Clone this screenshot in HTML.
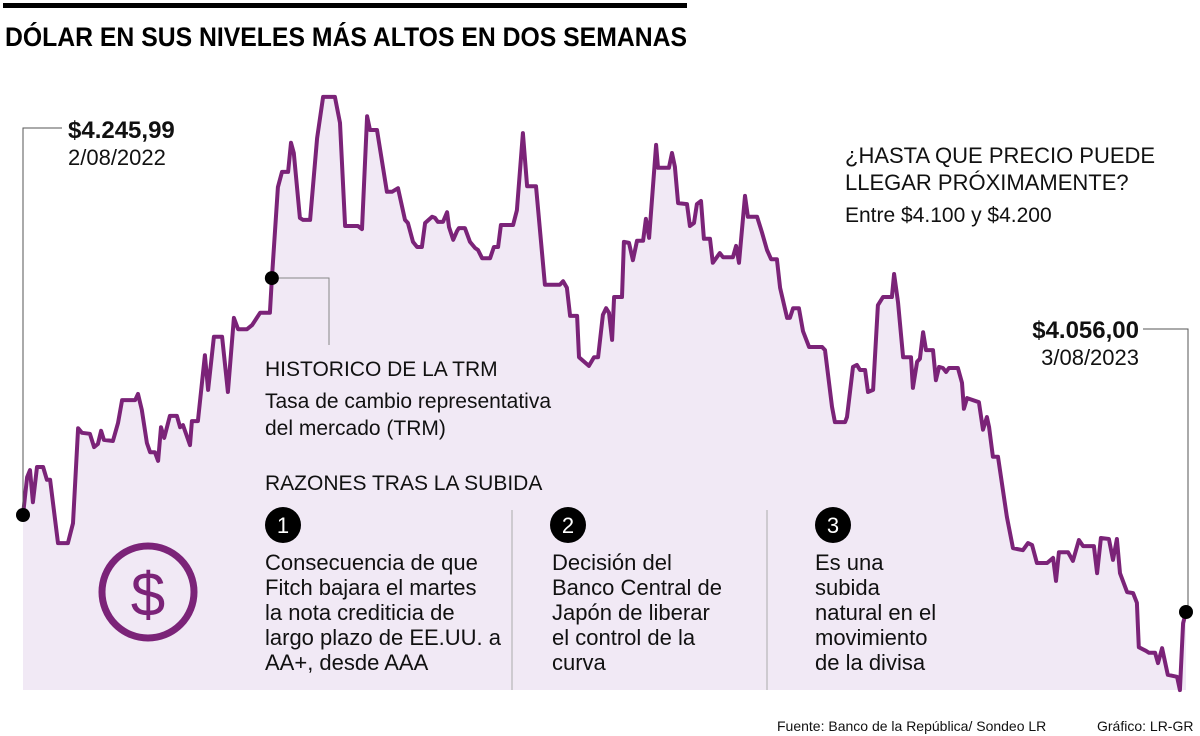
<!DOCTYPE html>
<html><head><meta charset="utf-8">
<style>
html,body{margin:0;padding:0;background:#fff;}
svg{display:block;font-family:"Liberation Sans",sans-serif;}
</style></head>
<body>
<svg id="chart" width="1200" height="736" viewBox="0 0 1200 736" xmlns="http://www.w3.org/2000/svg">
<rect x="3" y="3" width="684" height="5" fill="#000"/>
<text x="5" y="46" font-size="27" font-weight="bold" textLength="682" lengthAdjust="spacingAndGlyphs">DÓLAR EN SUS NIVELES MÁS ALTOS EN DOS SEMANAS</text>
<g id="plot"></g>
<g font-size="20" fill="#111">
  <polyline points="62,128 23,128 23,515" fill="none" stroke="#555" stroke-width="1"/>
  <text x="68" y="138" font-size="24" font-weight="bold">$4.245,99</text>
  <text x="68" y="165" font-size="22">2/08/2022</text>
  <polyline points="270,278 329,278 329,345" fill="none" stroke="#888" stroke-width="1"/>
  <text x="265" y="376" font-size="21">HISTORICO DE LA TRM</text>
  <text x="265" y="408" font-size="21">Tasa de cambio representativa</text>
  <text x="265" y="435" font-size="21">del mercado (TRM)</text>
  <text x="265" y="490" font-size="21">RAZONES TRAS LA SUBIDA</text>
  <line x1="512" y1="510" x2="512" y2="690" stroke="#aaa" stroke-width="1"/>
  <line x1="767" y1="510" x2="767" y2="690" stroke="#aaa" stroke-width="1"/>
  <circle cx="283" cy="525" r="18" fill="#000"/>
  <text x="283" y="533" font-size="22" fill="#fff" text-anchor="middle">1</text>
  <circle cx="568" cy="525" r="18" fill="#000"/>
  <text x="568" y="533" font-size="22" fill="#fff" text-anchor="middle">2</text>
  <circle cx="833" cy="525" r="18" fill="#000"/>
  <text x="833" y="533" font-size="22" fill="#fff" text-anchor="middle">3</text>
  <g font-size="22">
    <text x="265" y="570">Consecuencia de que</text>
    <text x="265" y="595">Fitch bajara el martes</text>
    <text x="265" y="620">la nota crediticia de</text>
    <text x="265" y="645">largo plazo de EE.UU. a</text>
    <text x="265" y="670">AA+, desde AAA</text>
  </g>
  <g font-size="22">
    <text x="552" y="570">Decisión del</text>
    <text x="552" y="595">Banco Central de</text>
    <text x="552" y="620">Japón de liberar</text>
    <text x="552" y="645">el control de la</text>
    <text x="552" y="670">curva</text>
  </g>
  <g font-size="22">
    <text x="815" y="570">Es una</text>
    <text x="815" y="595">subida</text>
    <text x="815" y="620">natural en el</text>
    <text x="815" y="645">movimiento</text>
    <text x="815" y="670">de la divisa</text>
  </g>
  <g>
    <circle cx="148" cy="592" r="46" fill="none" stroke="#7b2378" stroke-width="7"/>
    <text x="148" y="616" font-size="62" fill="#7b2378" text-anchor="middle">$</text>
  </g>
  <text x="845" y="163" font-size="22">¿HASTA QUE PRECIO PUEDE</text>
  <text x="845" y="190" font-size="22">LLEGAR PRÓXIMAMENTE?</text>
  <text x="845" y="222" font-size="21">Entre $4.100 y $4.200</text>
  <polyline points="1143,329 1188,329 1188,612" fill="none" stroke="#555" stroke-width="1"/>
  <text x="1139" y="338" font-size="24" font-weight="bold" text-anchor="end">$4.056,00</text>
  <text x="1139" y="365" font-size="22" text-anchor="end">3/08/2023</text>
  <text x="777" y="731" font-size="14">Fuente: Banco de la República/ Sondeo LR</text>
  <text x="1097" y="731" font-size="14">Gráfico: LR-GR</text>
</g>
</svg>
<script>
const days = [0,1.3,2.2,3.1,4.4,6.3,7.5,8.5,11,14.1,15.7,17.3,18.5,21,22.3,23.5,24.5,25.4,28.2,29.8,31.1,35.2,36.1,37.3,38.9,39.9,41.4,42.4,43.3,44.3,46.1,48.3,49.3,50.2,52.4,53,54.9,57.1,58.1,59.9,62.5,64.3,66.2,67.5,70.3,71.9,74.4,77.5,78.1,80,81.3,83.2,84.1,85,86.9,87.9,90.1,92.3,94.2,97.9,99.5,101.1,105.1,106.4,108,108.9,111.1,114.2,115.8,117.7,119.9,120.8,122.4,123.7,125.2,126.2,128.4,129.3,130.2,131.8,133.1,133.7,135,136.2,136.8,138.7,140.3,141.9,142.8,144.1,146.6,147.8,149.1,150,153.8,155,156.9,158.2,161,163.8,168.5,169.5,170.7,171.7,173.9,174.5,177.6,179.2,180.5,182,183,183.9,184.9,185.5,188,188.6,190.2,191.4,192.7,194.6,195.5,196.5,198.7,199.3,202.7,203.7,204.6,205.6,208.4,209.3,210.6,211.5,212.8,213.7,215.6,216.5,218.7,219.7,222.8,223.8,224.7,226.6,227.5,230.4,231.9,233.5,234.8,236.6,237.6,239.8,240.7,241.7,243.5,244.8,246.7,250.8,251.7,253.9,254.8,258,258.6,260.5,261.7,262.7,264.3,265.2,266.8,268.3,269.9,272.7,273.4,274.6,276.2,278.7,279.3,280.6,281.5,282.5,283.4,285.6,286.5,287.5,288.7,289.7,290.6,293.4,294.7,295.3,296.3,300,301.3,302.5,303.2,304.4,306,308.8,310.7,313.8,315.4,316.7,318.2,321.4,323.3,324.2,325.1,328,329.5,331.4,332.7,336.1,337.1,338.3,340.8,342.1,343.3,344.3,346.5,348.4,349.6,350.2,352.4,353.4,355.3,356.2,357.5,359.3,362.2,363.1,364.1,365];
const trm = [4246,4320,4334,4271,4340,4340,4315,4315,4191,4191,4230,4416,4407,4405,4379,4385,4411,4393,4391,4426,4471,4471,4483,4452,4387,4369,4369,4352,4418,4397,4440,4440,4418,4422,4383,4430,4430,4559,4491,4595,4595,4487,4632,4610,4610,4618,4642,4642,4710,4888,4918,4918,4975,4955,4828,4824,4824,4984,5065,5065,5014,4812,4812,4806,5027,5000,5000,4879,4879,4886,4824,4818,4781,4771,4771,4818,4830,4828,4820,4820,4839,4810,4785,4802,4808,4808,4781,4769,4765,4749,4749,4771,4771,4814,4814,4843,4994,4890,4890,4697,4697,4704,4691,4636,4636,4555,4538,4555,4555,4638,4651,4642,4589,4673,4673,4781,4779,4745,4783,4783,4826,4789,4971,4926,4926,4955,4928,4857,4855,4812,4818,4855,4861,4787,4787,4740,4759,4751,4751,4773,4740,4871,4830,4830,4800,4765,4747,4747,4691,4632,4632,4651,4651,4606,4575,4575,4569,4458,4428,4428,4438,4536,4540,4530,4530,4487,4491,4657,4673,4673,4718,4663,4555,4555,4495,4546,4552,4604,4569,4569,4510,4536,4534,4526,4534,4534,4505,4454,4475,4467,4413,4438,4418,4360,4360,4242,4181,4177,4191,4187,4152,4152,4162,4117,4173,4173,4156,4197,4185,4185,4132,4201,4199,4158,4199,4132,4095,4093,4074,3987,3980,3976,3976,3956,3985,3933,3929,3903,4034,4056];
const markerIdx = [0, 48, trm.length - 1];

const X0 = 23, X1 = 1186, DMAX = 365;
const xScale = d => X0 + (d / DMAX) * (X1 - X0);
const yScale = v => 515 - (v - 4245.99) / 1.9587;
const BASE = 690;
const NS = "http://www.w3.org/2000/svg";
const plot = document.getElementById('plot');

let pts = days.map((d, i) => xScale(d).toFixed(1) + ',' + yScale(trm[i]).toFixed(1));
const area = document.createElementNS(NS, 'polygon');
area.setAttribute('points', xScale(days[0]) + ',' + BASE + ' ' + pts.join(' ') + ' ' + xScale(days[days.length-1]) + ',' + BASE);
area.setAttribute('fill', '#f1e9f5');


plot.appendChild(area);

const line = document.createElementNS(NS, 'polyline');
line.setAttribute('points', pts.join(' '));
line.setAttribute('fill', 'none');
line.setAttribute('stroke', '#7b2378');
line.setAttribute('stroke-width', '4');
line.setAttribute('stroke-linejoin', 'round');


plot.appendChild(line);

markerIdx.forEach(i => {
  const c = document.createElementNS(NS, 'circle');
  c.setAttribute('cx', xScale(days[i]));
  c.setAttribute('cy', yScale(trm[i]));
  c.setAttribute('r', '7');
  c.setAttribute('fill', '#000');
  
  
  document.getElementById('chart').appendChild(c);
});
</script>
</body></html>
